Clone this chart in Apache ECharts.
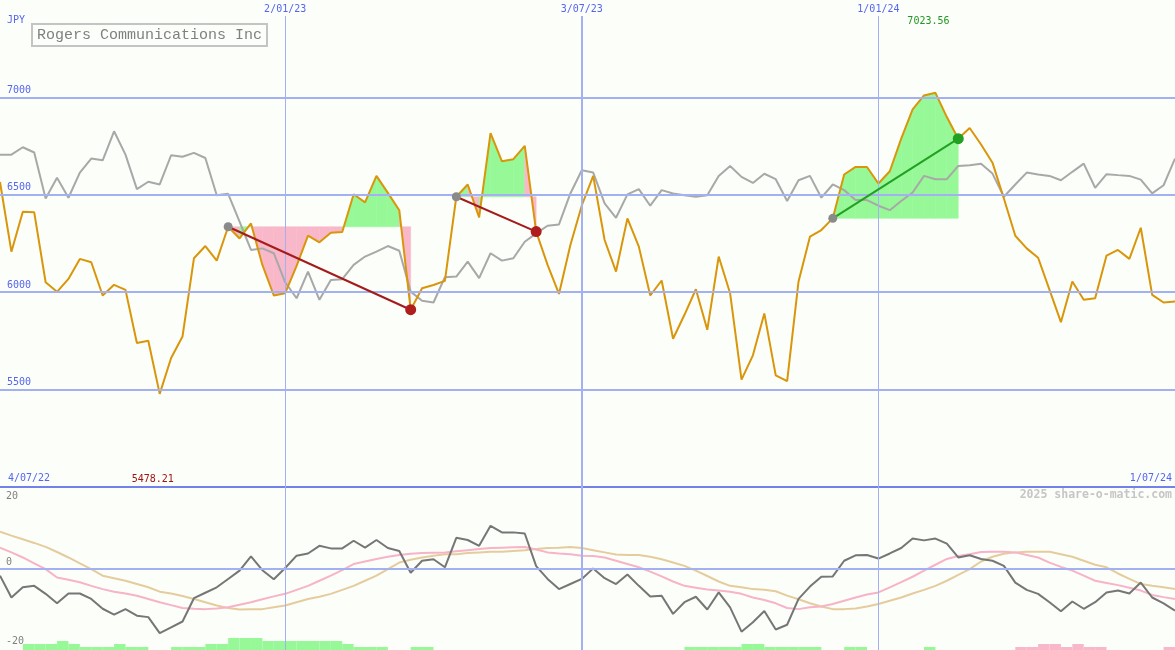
<!DOCTYPE html>
<html><head><meta charset="utf-8">
<script src="https://cdn.jsdelivr.net/npm/echarts/dist/echarts.min.js"></script>
<style>html,body{margin:0;padding:0;background:#fcfefa}#c{width:1175px;height:650px}</style>
</head><body><div id="c"></div>
<script>
// ---- data (weekly, 11 Jul 2022 .. 1 Jul 2024) ----
const price = [6566,6208,6413,6410,6051,6002,6068,6171,6154,5983,
  6038,6012,5739,5751,5478.21,5662,5773,6174,6237,6162,
  6336,6276,6353,6140,5983,5995,6135,6290,6256,6305,
  6309,6503,6461,6597,6510,6421,5910,6020,6037,6058,
  6490,6553,6384,6817,6672,6683,6751,6311,6140,5991,
  6242,6445,6597,6268,6106,6379,6234,5983,6060,5761,
  5884,6015,5807,6183,5995,5551,5676,5891,5573,5543,
  6055,6285,6319,6379,6604,6643,6643,6558,6621,6788,
  6939,7010,7023.56,6899,6788,6843,6758,6665,6481,6290,
  6225,6177,6012,5846,6055,5961,5969,6188,6217,6171,
  6331,5986,5947,5952];
const compare = [6706,6706,6744,6717,6481,6587,6485,6614,6686,6677,
  6826,6706,6529,6567,6553,6703,6695,6715,6689,6498,
  6505,6362,6217,6225,6200,6051,5969,6106,5961,6063,
  6067,6140,6183,6208,6237,6213,6003,5956,5947,6077,
  6080,6157,6072,6200,6162,6174,6259,6302,6341,6348,
  6507,6626,6614,6456,6382,6502,6529,6444,6524,6507,
  6498,6490,6498,6597,6648,6592,6561,6608,6580,6468,
  6575,6597,6485,6553,6524,6473,6473,6444,6421,6468,
  6512,6597,6580,6580,6648,6652,6659,6609,6490,6553,
  6614,6604,6597,6575,6618,6660,6536,6606,6601,6597,
  6578,6507,6549,6686];
const osc = [-1.9,-7.9,-5.1,-4.7,-6.9,-9.5,-6.8,-6.8,-8.3,-11.0,
  -12.6,-11.1,-12.9,-13.3,-17.7,-16.1,-14.5,-8.1,-6.6,-5.1,
  -2.8,-0.5,3.4,-0.4,-2.9,0.2,3.6,4.2,6.3,5.6,
  5.6,7.7,5.8,7.9,5.7,4.9,-1.1,2.2,2.6,0.4,
  8.5,7.9,6.3,11.8,10.0,10.0,9.7,0.7,-2.8,-5.6,
  -4.2,-2.8,0.1,-2.6,-4.2,-1.6,-4.7,-7.6,-7.4,-12.4,
  -9.2,-7.7,-11.2,-6.5,-10.6,-17.3,-14.7,-11.6,-16.7,-15.4,
  -8.3,-4.9,-2.2,-2.1,2.2,3.7,3.8,2.8,4.2,5.7,
  8.3,7.8,8.3,6.9,3.1,3.7,2.7,2.2,0.8,-3.8,
  -5.8,-6.9,-9.2,-11.7,-9.0,-11.0,-9.2,-6.5,-6.0,-6.8,
  -3.8,-7.9,-9.5,-11.5];
const oscPink = [5.8,4.5,3.1,1.5,-0.1,-2.4,-3.0,-3.7,-4.7,-5.6,
  -6.3,-6.8,-7.4,-8.3,-9.2,-10.0,-10.8,-11.0,-11.1,-10.9,
  -10.6,-9.9,-9.2,-8.4,-7.6,-6.9,-5.8,-4.7,-3.3,-1.9,
  -0.4,1.3,2.0,2.7,3.3,3.8,4.1,4.3,4.4,4.5,
  4.8,5.1,5.4,5.7,5.8,5.9,6.0,5.3,4.5,4.2,
  4.0,3.6,3.5,3.1,2.2,1.3,0.4,-0.8,-2.1,-3.5,
  -4.7,-5.2,-5.7,-6.0,-6.3,-6.9,-7.9,-8.6,-9.5,-10.8,
  -11.1,-10.6,-10.4,-9.7,-8.8,-7.9,-7.1,-6.5,-5.1,-3.7,
  -2.2,-0.5,1.1,2.7,3.5,4.0,4.6,4.7,4.7,4.5,
  3.8,3.1,1.7,0.5,-0.5,-1.9,-3.3,-3.9,-4.5,-5.2,
  -6.0,-7.2,-7.8,-8.3];
const oscTan = [10.2,9.1,8.1,7.1,6.0,4.6,3.1,1.5,-0.1,-1.9,
  -2.6,-3.3,-4.2,-5.1,-6.3,-6.8,-7.5,-8.3,-9.2,-10.1,
  -10.8,-11.2,-11.1,-11.1,-10.6,-10.1,-9.2,-8.3,-7.7,-6.9,
  -5.8,-4.7,-3.3,-1.9,-0.1,1.7,2.5,3.1,3.6,4.0,
  4.0,4.3,4.5,4.7,4.7,4.9,5.1,5.4,5.7,5.8,
  6.0,5.7,5.1,4.5,3.9,3.8,3.8,3.3,2.6,1.7,
  0.8,-0.5,-2.0,-3.5,-4.7,-5.1,-5.6,-5.8,-6.2,-7.4,
  -8.4,-9.5,-10.4,-11.1,-11.1,-10.9,-10.4,-9.7,-8.8,-7.9,
  -6.8,-5.8,-4.7,-3.3,-1.7,-0.1,2.0,3.3,4.1,4.5,
  4.7,4.7,4.7,4.0,3.3,2.2,1.1,0.4,-1.3,-2.8,
  -4.2,-4.7,-5.1,-5.6];
// bars between week k and k+1 (positive green, negative pink)
const bars = [0,0,2,2,2,3,2,1,1,1,
  2,1,1,0,0,1,1,1,2,2,
  4,4,4,3,3,3,3,3,3,3,
  2,1,1,1,0,0,1,1,0,0,
  0,0,0,0,0,0,0,0,0,0,
  0,0,0,0,0,0,0,0,0,0,
  1,1,1,1,1,2,2,1,1,1,
  1,1,0,0,1,1,0,0,0,0,
  0,1,0,0,0,0,0,0,0,-1,
  -1,-2,-2,-1,-2,-1,-1,0,0,0,
  0,0,-1];
const trades = [
  {start: 20, end: 36},
  {start: 40, end: 47},
  {start: 73, end: 84}
];
const dateTickIdx = [25, 51, 77];
const dateTickLabels = ['2/01/23', '3/07/23', '1/01/24'];
const edgeLabels = ['4/07/22', '1/07/24'];
const priceTicks = [5500, 6000, 6500, 7000];
const oscTicks = [-20, 0, 20];
const titleText = 'Rogers Communications Inc';
const currency = 'JPY';
const credit = '2025 share-o-matic.com';

// ---- chart ----
const N = price.length;
const xy = arr => arr.map((v, i) => [i, v]);
const gridBlue = '#a3b1f2', sepBlue = '#7282ea', labelBlue = '#5565ee';
const green = '#97f897', pink = '#f8b8c9';
const mono = '"DejaVu Sans Mono", monospace';
const smallFont = '10px "DejaVu Sans Mono", monospace';
const maxIdx = price.indexOf(Math.max(...price));
const minIdx = price.indexOf(Math.min(...price));
const topVal = 7418;       // where the date lines start (just under the date labels)
const labelTopVal = 7392;  // row for the max label
const labelBotVal = 5041;  // row for the min label

function fillSeries(t) {
  const L = price[t.start];
  const data = [];
  for (let k = t.start; k < t.end; k++) data.push([k, price[k], price[k + 1], L]);
  return {
    type: 'custom', xAxisIndex: 0, yAxisIndex: 0, z: 1, silent: true,
    dimensions: ['x', 'a', 'b', 'L'], encode: {x: 0, y: [1, 2, 3]},
    data,
    renderItem: (params, api) => {
      const k = api.value(0), a = api.value(1), b = api.value(2), lv = api.value(3);
      const pts = [api.coord([k, lv]), api.coord([k, a]), api.coord([k + 1, b]), api.coord([k + 1, lv])];
      const c = b >= lv ? green : pink;
      return {type: 'polygon', shape: {points: pts}, style: {fill: c, stroke: c, lineWidth: 0.5}};
    }
  };
}

function tradeSeries(t) {
  const gain = price[t.end] >= price[t.start];
  return {
    type: 'line', xAxisIndex: 0, yAxisIndex: 0, z: 6, silent: true,
    symbol: 'circle',
    lineStyle: {color: gain ? '#23a023' : '#a31b1b', width: 2},
    data: [
      {value: [t.start, price[t.start]], symbolSize: 9, itemStyle: {color: '#8a8a8a'}},
      {value: [t.end, price[t.end]], symbolSize: 11, itemStyle: {color: gain ? '#22a022' : '#b01d1d'}}
    ]
  };
}

const mainLines = [
  ...priceTicks.map(v => ({yAxis: v, lineStyle: {color: gridBlue, width: 2, type: 'solid'}})),
  {yAxis: 5000, lineStyle: {color: sepBlue, width: 2, type: 'solid'}},
  ...dateTickIdx.map((idx, j) => [
    {coord: [idx, 5000], lineStyle: {color: gridBlue, width: j === 1 ? 2 : 1, type: 'solid'},
     label: {show: true, position: 'end', distance: 2, formatter: dateTickLabels[j], color: labelBlue, fontFamily: mono, fontSize: 10}},
    {coord: [idx, topVal]}
  ])
];

const option = {
  backgroundColor: '#fcfefa',
  animation: false,
  title: {
    text: titleText, left: 32, top: 24, padding: [4, 5, 3, 5],
    borderWidth: 2, borderColor: '#c4c4c4',
    textStyle: {fontFamily: '"Liberation Mono", monospace', fontSize: 15, fontWeight: 'normal', color: '#808080'}
  },
  grid: [
    {left: 0, right: 0, top: 0, height: 487},
    {left: 0, right: 0, top: 496, height: 145.5},
    {left: 0, right: 0, top: 487, height: 163}
  ],
  xAxis: [0, 1, 2].map(g => ({type: 'value', gridIndex: g, min: 0, max: N - 1, show: false})),
  yAxis: [
    {type: 'value', gridIndex: 0, min: 5000, max: 7500, interval: 500,
     axisLine: {show: false}, axisTick: {show: false}, splitLine: {show: false},
     axisLabel: {inside: true, margin: 7, verticalAlign: 'bottom', padding: [0, 0, 2, 0],
       color: labelBlue, fontFamily: mono, fontSize: 10,
       formatter: v => priceTicks.includes(v) ? String(v) : ''}},
    {type: 'value', gridIndex: 1, min: -20, max: 20, interval: 20,
     axisLine: {show: false}, axisTick: {show: false}, splitLine: {show: false},
     axisLabel: {inside: true, margin: 6, color: '#808080', fontFamily: mono, fontSize: 10,
       formatter: v => oscTicks.includes(v) ? (v === 0 ? '{z|0}' : String(v)) : '',
       rich: {z: {padding: [0, 0, 12, 0], color: '#808080', fontFamily: mono, fontSize: 10}}}},
    {type: 'value', gridIndex: 2, min: 0, max: 163 / 3, show: false}
  ],
  graphic: [
    {type: 'text', left: 7, top: 15, style: {text: currency, fill: labelBlue, font: smallFont}},
    {type: 'text', left: 8, top: 473, style: {text: edgeLabels[0], fill: labelBlue, font: smallFont}},
    {type: 'text', right: 3, top: 473, style: {text: edgeLabels[1], fill: labelBlue, font: smallFont}},
    {type: 'text', right: 3, top: 489, style: {text: credit, fill: '#c6c6c6', font: 'bold 11.5px "DejaVu Sans Mono", monospace'}}
  ],
  series: [
    ...trades.map(fillSeries),
    {type: 'line', xAxisIndex: 0, yAxisIndex: 0, z: 2, data: [], silent: true,
     markLine: {silent: true, symbol: 'none', animation: false, label: {show: false}, data: mainLines}},
    {type: 'line', xAxisIndex: 0, yAxisIndex: 0, z: 3, data: xy(compare), symbol: 'none', silent: true,
     lineStyle: {color: '#a8a8a8', width: 2}},
    {type: 'line', xAxisIndex: 0, yAxisIndex: 0, z: 4, data: xy(price), symbol: 'none', silent: true,
     lineStyle: {color: '#d9960a', width: 2},
     markPoint: {silent: true, symbol: 'circle', symbolSize: 0, data: [
       {coord: [maxIdx, labelTopVal], label: {show: true, position: 'inside', offset: [-7, 0], formatter: price[maxIdx].toFixed(2), color: '#229622', fontFamily: mono, fontSize: 10}},
       {coord: [minIdx, labelBotVal], label: {show: true, position: 'inside', offset: [-7, 0], formatter: price[minIdx].toFixed(2), color: '#a01414', fontFamily: mono, fontSize: 10}}
     ]}},
    ...trades.map(tradeSeries),
    // lower panel
    {type: 'custom', xAxisIndex: 2, yAxisIndex: 2, z: 1, silent: true,
     data: bars.map((v, k) => [k, v]),
     renderItem: (params, api) => {
       const k = api.value(0), v = api.value(1);
       if (!v) return {type: 'group', children: []};
       const p0 = api.coord([k, 0]), p1 = api.coord([k + 1, Math.abs(v)]);
       return {type: 'rect', shape: {x: p0[0], y: p1[1], width: p1[0] - p0[0], height: p0[1] - p1[1]},
         style: {fill: v > 0 ? green : pink}};
     },
     markLine: {silent: true, symbol: 'none', animation: false, label: {show: false},
       data: dateTickIdx.map((idx, j) => ({xAxis: idx, lineStyle: {color: gridBlue, width: j === 1 ? 2 : 1, type: 'solid'}}))}},
    {type: 'line', xAxisIndex: 1, yAxisIndex: 1, z: 2, data: xy(oscTan), symbol: 'none', silent: true,
     lineStyle: {color: '#e5cc9d', width: 2},
     markLine: {silent: true, symbol: 'none', animation: false, label: {show: false},
       data: [{yAxis: 0, lineStyle: {color: gridBlue, width: 2, type: 'solid'}}]}},
    {type: 'line', xAxisIndex: 1, yAxisIndex: 1, z: 3, data: xy(oscPink), symbol: 'none', silent: true,
     lineStyle: {color: '#f7b3c7', width: 2}},
    {type: 'line', xAxisIndex: 1, yAxisIndex: 1, z: 4, data: xy(osc), symbol: 'none', silent: true,
     lineStyle: {color: '#767676', width: 2}}
  ]
};
const chart = echarts.init(document.getElementById('c'));
chart.setOption(option);
</script>
</body></html>
